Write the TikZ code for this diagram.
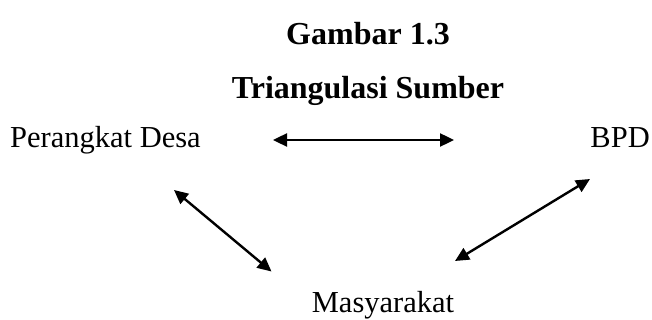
\documentclass[tikz,border=0pt]{standalone}
\usepackage{fontspec}
\setmainfont{Liberation Serif}
\usetikzlibrary{arrows.meta}
\begin{document}
\begin{tikzpicture}[x=1pt,y=-1pt,
  lbl/.style={font=\fontsize{30.5}{36}\selectfont, inner sep=0pt, anchor=base},
  ttl/.style={font=\fontsize{32}{36}\selectfont\bfseries, inner sep=0pt, anchor=base},
  link/.style={line width=2.4pt, {Triangle[length=14pt,width=13pt]}-{Triangle[length=14pt,width=13pt]}}]
\useasboundingbox (0,0) rectangle (652,320);
\node[ttl] (t1) at (368,45) {Gambar 1.3};
\node[ttl] (t2) at (368,99) {Triangulasi Sumber};
\node[lbl, anchor=base west] (pd) at (10,148) {Perangkat Desa};
\node[lbl, anchor=base east] (bpd) at (650,148) {BPD};
\node[lbl] (m) at (383,312) {Masyarakat};
\coordinate (h1) at (273,140);
\coordinate (h2) at (454,140);
\coordinate (l1) at (174,190);
\coordinate (l2) at (271.5,271.5);
\coordinate (r1) at (455,261);
\coordinate (r2) at (590,179);
\draw[link] (h1) -- (h2);
\draw[link] (l1) -- (l2);
\draw[link] (r1) -- (r2);
\end{tikzpicture}
\end{document}
